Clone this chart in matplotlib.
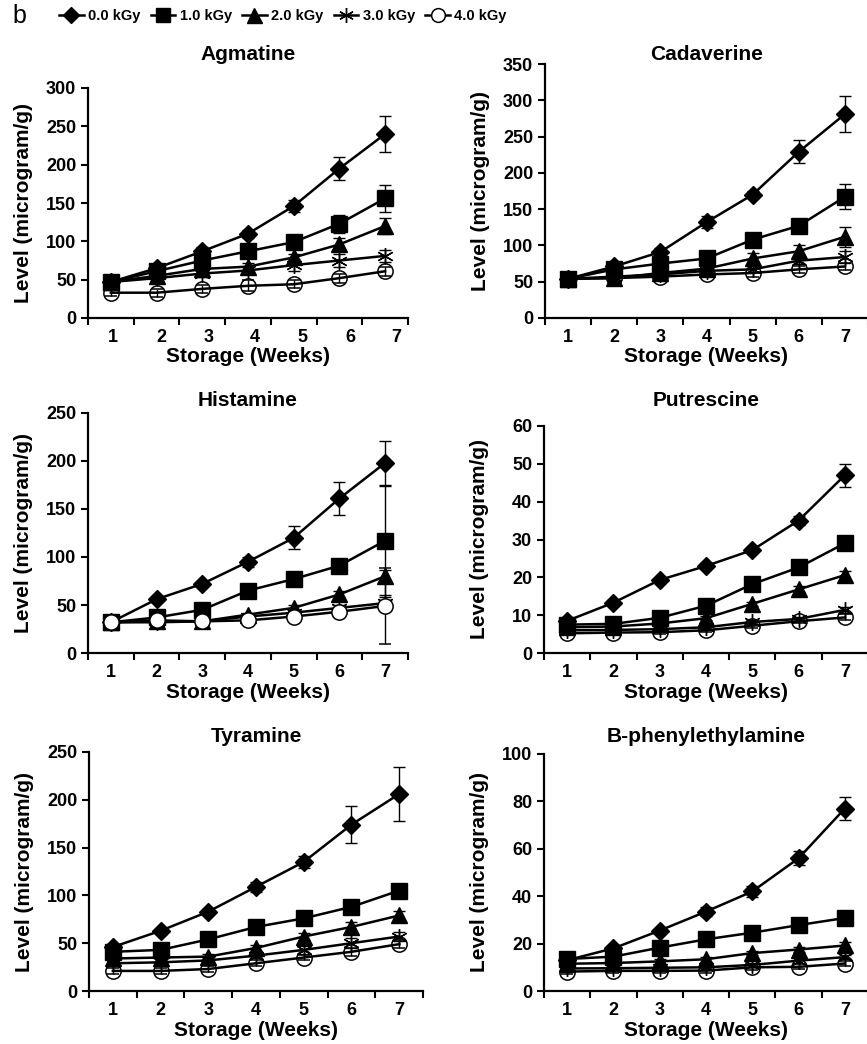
import matplotlib
matplotlib.use("Agg")
import matplotlib.pyplot as plt
from matplotlib.lines import Line2D
import numpy as np

plt.rcParams["font.family"] = ["Liberation Sans", "DejaVu Sans"]
plt.rcParams["font.weight"] = "bold"

weeks = [1, 2, 3, 4, 5, 6, 7]
doses = ["0.0 kGy", "1.0 kGy", "2.0 kGy", "3.0 kGy", "4.0 kGy"]

# mean level per dose (rows: 0, 1, 2, 3, 4 kGy), microgram/g
agm_mean = [[47, 65, 87, 110, 146, 195, 240],
            [47, 61, 75, 87, 99, 123, 156],
            [47, 55, 64, 67, 79, 96, 120],
            [47, 52, 58, 62, 69, 75, 81],
            [33, 33, 38, 42, 44, 52, 61]]
agm_err = [[3, 4, 6, 5, 8, 15, 24],
           [3, 4, 5, 6, 6, 12, 18],
           [3, 3, 4, 5, 5, 8, 10],
           [3, 3, 4, 5, 8, 8, 8],
           [4, 5, 5, 7, 5, 6, 6]]

cad_mean = [[54, 71, 91, 132, 170, 229, 281],
            [54, 67, 75, 82, 108, 127, 167],
            [54, 55, 62, 68, 82, 92, 112],
            [54, 57, 60, 65, 67, 79, 84],
            [54, 55, 57, 60, 62, 67, 71]]
cad_err = [[3, 4, 5, 8, 5, 16, 25],
           [3, 3, 4, 4, 5, 5, 17],
           [3, 3, 4, 4, 8, 8, 14],
           [3, 3, 4, 4, 4, 5, 8],
           [3, 3, 3, 3, 5, 5, 5]]

his_mean = [[32, 56, 72, 95, 120, 161, 198],
            [32, 37, 45, 65, 77, 91, 117],
            [32, 33, 33, 40, 47, 61, 80],
            [32, 32, 33, 38, 42, 47, 52],
            [32, 34, 33, 34, 38, 43, 49]]
his_err = [[2, 3, 3, 5, 12, 17, 23],
           [2, 2, 2, 2, 3, 3, 57],
           [2, 2, 2, 2, 3, 4, 6],
           [2, 2, 2, 2, 2, 3, 6],
           [2, 2, 2, 2, 2, 3, 40]]

put_mean = [[8.5, 13.3, 19.3, 23, 27.2, 35, 47],
            [7.5, 7.7, 9.3, 12.5, 18.2, 22.6, 29],
            [6.8, 7.0, 7.8, 9.2, 13, 16.8, 20.6],
            [6.0, 6.1, 6.3, 6.8, 8.2, 9.0, 11.4],
            [5.2, 5.4, 5.5, 6.0, 7.2, 8.4, 9.4]]
put_err = [[0.5, 0.6, 0.6, 0.7, 0.8, 1.2, 3],
           [0.4, 0.4, 0.5, 0.6, 0.7, 0.8, 1.0],
           [0.4, 0.4, 0.4, 0.5, 0.6, 0.8, 1.2],
           [0.4, 0.4, 0.4, 0.4, 0.5, 0.6, 0.8],
           [0.4, 0.4, 0.4, 0.4, 0.5, 0.6, 0.8]]

tyr_mean = [[46, 63, 83, 109, 135, 174, 206],
            [41, 43, 54, 67, 76, 88, 105],
            [34, 35, 36, 45, 57, 67, 79],
            [29, 30, 32, 37, 43, 50, 57],
            [21, 21, 23, 29, 35, 41, 49]]
tyr_err = [[3, 3, 3, 5, 6, 19, 28],
           [3, 3, 3, 3, 3, 3, 4],
           [3, 3, 3, 3, 4, 5, 5],
           [3, 3, 3, 3, 4, 5, 5],
           [3, 3, 3, 3, 3, 4, 4]]

phe_mean = [[13, 18, 25.5, 33.5, 42, 56, 77],
            [13.5, 14.5, 18.3, 21.8, 24.6, 27.8, 30.8],
            [11.5, 11.8, 12.5, 13.4, 16, 17.5, 19.2],
            [9.5, 9.6, 9.8, 10, 11, 12.8, 14.3],
            [8.2, 8.5, 8.5, 8.6, 10, 10.2, 11.6]]
phe_err = [[1, 1, 1, 2, 2.5, 3, 5],
           [1, 1, 1, 1, 1, 1, 1.5],
           [1, 1, 1, 1, 1, 1, 1.5],
           [1, 1, 1, 1, 1, 1, 1],
           [1, 1, 1, 1, 1, 1, 1]]

titles = ["Agmatine", "Cadaverine", "Histamine", "Putrescine", "Tyramine", "B-phenylethylamine"]
means = [agm_mean, cad_mean, his_mean, put_mean, tyr_mean, phe_mean]
errs = [agm_err, cad_err, his_err, put_err, tyr_err, phe_err]
y_tops = [300, 350, 250, 60, 250, 100]
y_steps = [50, 50, 50, 10, 50, 20]

# layout in pixels: left, top, right, bottom of each axes
W, H = 867, 1044
rects = [(88, 88, 408, 318), (545, 64, 868, 318),
         (88, 413, 408, 653), (544, 426, 868, 653),
         (89, 752, 423, 991), (544, 754, 868, 991)]
title_y = [55, 55, 400, 400, 737, 737]
# week labels in the Agmatine panel sit a bit to the right
label_shift = [[0.05, 0.1, 0.13, 0.15, 0.2, 0.23, 0.25], None, None, None, None, None]

styles = [dict(marker="D", ms=9.5, mfc="black"),
          dict(marker="s", ms=11, mfc="black"),
          dict(marker="^", ms=12, mfc="black"),
          dict(marker=(6, 2, 0), ms=12, mfc="black", mew=1.0),
          dict(marker="o", ms=11, mfc="none", mew=1.1)]

fig = plt.figure(figsize=(W / 100, H / 100), dpi=100)

for k in range(6):
    l, t, r, b = rects[k]
    ax = fig.add_axes([l / W, 1 - b / H, (r - l) / W, (b - t) / H])
    for i in range(5):
        st = dict(styles[i])
        if i == 4 and titles[k] == "Histamine":
            st["mfc"] = "white"
        ax.errorbar(weeks, means[k][i], yerr=errs[k][i], color="black", lw=1.8,
                    elinewidth=1, capsize=4.5, capthick=1, mec="black",
                    zorder=2 + i, clip_on=False, **st)

    ax.set_xlim(0.5, 7.5)
    ax.set_ylim(0, y_tops[k])
    ax.set_xticks(np.arange(0.5, 8, 1))
    ax.set_xticklabels([])
    pos = np.array(weeks, dtype=float)
    if label_shift[k] is not None:
        pos = pos + np.array(label_shift[k])
    ax.set_xticks(pos, minor=True)
    ax.set_xticklabels([str(w) for w in weeks], minor=True)
    ax.set_yticks(np.arange(0, y_tops[k] + 1, y_steps[k]))
    ax.tick_params(axis="both", which="major", length=5, width=1.5, labelsize=13, direction="out")
    ax.tick_params(axis="x", which="minor", length=0, pad=8, labelsize=13)
    for s in ["top", "right"]:
        ax.spines[s].set_visible(False)
    for s in ["left", "bottom"]:
        ax.spines[s].set_linewidth(1.6)

    ax.set_xlabel("Storage (Weeks)", fontsize=15, fontweight="bold", labelpad=1)
    ax.set_ylabel("Level (microgram/g)", fontsize=15, fontweight="bold")
    ax.yaxis.set_label_coords(-55 / (r - l), 0.5)
    fig.text((l + r) / 2 / W, 1 - title_y[k] / H, titles[k], ha="center", va="center",
             fontsize=15, fontweight="bold")

handles = []
for i in range(5):
    st = dict(styles[i])
    st["ms"] = st["ms"] * 0.9
    if i == 4:
        st["mfc"] = "white"
    handles.append(Line2D([], [], color="black", lw=1.8, mec="black", **st))

fig.legend(handles, doses, loc="upper left", bbox_to_anchor=(53 / W, 1 - 3 / H),
           ncol=5, frameon=False, handlelength=1.7, handletextpad=0.3,
           columnspacing=0.7, borderaxespad=0,
           prop=dict(weight="bold", size=10.5))

fig.text(12 / W, 1 - 4 / H, "b", ha="left", va="top", fontsize=18, fontweight="normal")

fig.savefig("out.png", dpi=100)
